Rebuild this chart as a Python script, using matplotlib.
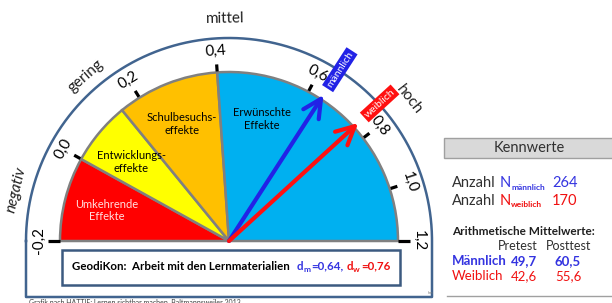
import matplotlib.pyplot as plt
import numpy as np
from matplotlib.patches import Wedge, Rectangle, FancyArrowPatch

plt.rcParams['font.family'] = ['Lato', 'DejaVu Sans']

# ---- data ----
scale_ticks = [-0.2, 0.0, 0.2, 0.4, 0.6, 0.8, 1.0, 1.2]
tick_labels = ['-0,2', '0,0', '0,2', '0,4', '0,6', '0,8', '1,0', '1,2']
zone_edges = [-0.2, 0.0, 0.15, 0.4, 1.2]
zone_labels = ['Umkehrende\nEffekte', 'Entwicklungs-\neffekte',
               'Schulbesuchs-\neffekte', 'Erwünschte\nEffekte']
groups = ['männlich', 'weiblich']
d_values = [0.64, 0.76]
n_values = [264, 170]
row_labels = ['Männlich', 'Weiblich']
pretest = [49.7, 42.6]
posttest = [60.5, 55.6]
levels = ['negativ', 'gering', 'mittel', 'hoch']

# ---- gauge scale (value -> angle, the dial is not linear) ----
tick_angles = [180, 151, 122, 94, 62, 37.5, 18, 0]
def ang(v):
    return np.interp(v, scale_ticks, tick_angles)

W, H = 612, 303
fig = plt.figure(figsize=(W / 100, H / 100), dpi=100)
ax = fig.add_axes([0, 0, 1, 1])
ax.set_xlim(0, W)
ax.set_ylim(0, H)
ax.axis('off')
renderer = fig.canvas.get_renderer()

def Y(y):
    return H - y

cx, cy = 229, Y(241)
R = 169

def pol(r, a):
    t = np.radians(a)
    return cx + r * np.cos(t), cy + r * np.sin(t)

zone_colors = ['#FF0000', '#FFFF00', '#FFC000', '#00B0F0']
zone_text_col = ['#FFE0E0', 'black', 'black', 'black']
zone_lab_ang = [166, 141, 112, 75]
for i in range(4):
    a1, a2 = ang(zone_edges[i + 1]), ang(zone_edges[i])
    ax.add_patch(Wedge((cx, cy), R, a1, a2, fc=zone_colors[i], ec='#808080', lw=1.8, zorder=2))
    x, y = pol(126, zone_lab_ang[i])
    ax.text(x, y, zone_labels[i], ha='center', va='center', fontsize=8,
            color=zone_text_col[i], linespacing=1.2, zorder=3)

# ticks + labels
for v, lab in zip(scale_ticks, tick_labels):
    a = ang(v)
    end = v in (scale_ticks[0], scale_ticks[-1])
    r0, r1 = (R, R + 12) if end else (R + 1, R + 8)
    x0, y0 = pol(r0, a)
    x1, y1 = pol(r1, a)
    ax.plot([x0, x1], [y0, y1], color='black', lw=2.3, solid_capstyle='butt', zorder=3)
    x, y = pol(190, a)
    ax.text(x, y, lab, rotation=a - 90, ha='center', va='center', fontsize=11,
            rotation_mode='anchor', zorder=3)

# outer frame
t = np.linspace(np.pi, 0, 200)
fx = list(cx + 203 * np.cos(t)) + [cx + 203, cx - 203, cx - 203]
fy = list(cy + 203 * np.sin(t)) + [Y(297), Y(297), cy]
ax.plot(fx, fy, color='#41648F', lw=1.8, zorder=1)

# qualitative level labels
lev_ang = [166.5, 131, 91, 38]
lev_r = [219, 219, 222, 229]
for lab, a, r in zip(levels, lev_ang, lev_r):
    x, y = pol(r, a)
    ax.text(x, y, lab, rotation=a - 90, ha='center', va='center', fontsize=11,
            color='#202020', style='italic' if lab == 'negativ' else 'normal',
            rotation_mode='anchor')

# arrows and tags
arrow_cols = ['#2222E6', '#FF1010']
arrow_len = [174, 175]
for g, d, c, L in zip(groups, d_values, arrow_cols, arrow_len):
    a = ang(d)
    ax.add_patch(FancyArrowPatch((cx, cy), pol(L, a),
                                 arrowstyle='->,head_length=1.1,head_width=0.55',
                                 mutation_scale=12, lw=3, color=c,
                                 shrinkA=0, shrinkB=0, zorder=4))
    x, y = pol(204, a)
    ax.text(x, y, g, rotation=a, ha='center', va='center', fontsize=7.5, color='white',
            rotation_mode='anchor', zorder=5,
            bbox=dict(boxstyle='square,pad=0.2', fc=c, ec='none'))

# faint title descender at the top
ax.text(255, Y(-4), 'g', fontsize=13, ha='center', va='baseline', color='#202020')

def chain(x, y, parts):
    # parts: (text, colour, size, weight, gap_px, baseline_shift_px)
    for s, c, fs, fw, gap, dy in parts:
        x += gap
        tx = ax.text(x, y + dy, s, color=c, fontsize=fs, fontweight=fw,
                     va='baseline', ha='left', zorder=6)
        x = tx.get_window_extent(renderer).x1

# info box under gauge
ax.add_patch(Rectangle((62, Y(285)), 338, 35, fc='white', ec='#3C5A80', lw=1.8, zorder=5))
blue_t, red_t = '#3434E0', '#F01010'
chain(72, Y(269.5), [
    ('GeodiKon:  Arbeit mit den Lernmaterialien', 'black', 8.3, 'bold', 0, 0),
    ('d', blue_t, 8.3, 'bold', 7, 0),
    ('m', blue_t, 6, 'bold', 0.3, -2),
    ('=0,64,', blue_t, 8.3, 'bold', 0.3, 0),
    ('d', red_t, 8.3, 'bold', 3.5, 0),
    ('w', red_t, 6, 'bold', 0.3, -2),
    ('=0,76', red_t, 8.3, 'bold', 0.6, 0),
])

ax.text(29, Y(298.5), 'Grafik nach HATTIE: Lernen sichtbar machen, Baltmannsweiler 2013',
        fontsize=5, va='top', ha='left', color='#404040')
ax.text(430, Y(293), 'km', fontsize=3, ha='center', va='center', color='#808080')

# ---- right panel ----
ax.add_patch(Rectangle((444, Y(158)), 172, 20, fc='#D9D9D9', ec='#A0A0A0', lw=1))
ax.text(529, Y(148), 'Kennwerte', fontsize=10.5, ha='center', va='center', color='#303030')

num_cols = ['#3434E0', '#F01010']
for i, (g, n) in enumerate(zip(groups, n_values)):
    yb = Y(187 + 17.7 * i)
    chain(452, yb, [
        ('Anzahl', '#303030', 10.5, 'normal', 0, 0),
        ('N', num_cols[i], 10.5, 'normal', 4, 0),
        (g, num_cols[i], 6, 'bold', 0.5, -2.5),
    ])
    ax.text(552, yb, str(n), fontsize=10.5, color=num_cols[i], va='baseline', ha='left')

ax.text(452, Y(231.5), 'Arithmetische Mittelwerte:', fontsize=8.5, fontweight='bold',
        va='center', ha='left', color='#202020')
ax.text(518, Y(246.5), 'Pretest', fontsize=9, ha='center', va='center', color='#303030')
ax.text(569, Y(246.5), 'Posttest', fontsize=9, ha='center', va='center', color='#303030')
for i, lab in enumerate(row_labels):
    yy = Y(261 + 15 * i)
    fw = 'bold' if i == 0 else 'normal'
    ax.text(452, yy, lab, fontsize=9.5, fontweight=fw, color=num_cols[i], va='center', ha='left')
    ax.text(524, yy, f'{pretest[i]:.1f}'.replace('.', ','), fontsize=9.5, fontweight=fw,
            color=num_cols[i], va='center', ha='center')
    ax.text(568, yy, f'{posttest[i]:.1f}'.replace('.', ','), fontsize=9.5, fontweight=fw,
            color=num_cols[i], va='center', ha='center')
ax.plot([447, 612], [Y(295.5), Y(295.5)], color='#A0A0A0', lw=1)

fig.savefig('out.png', dpi=100)
